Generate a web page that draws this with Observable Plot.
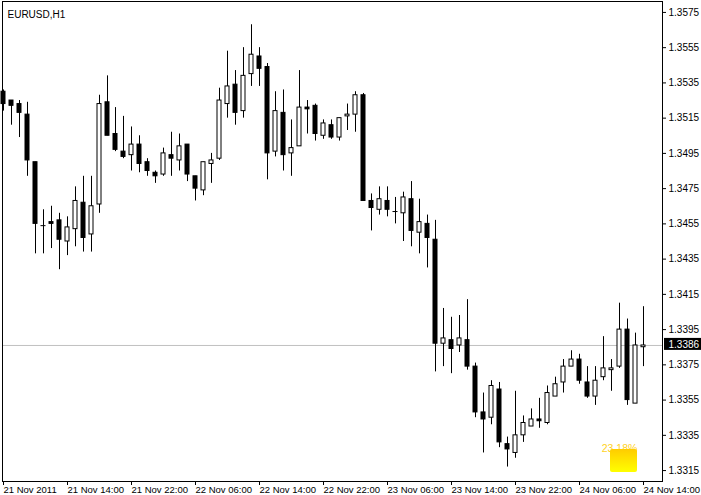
<!DOCTYPE html>
<html><head><meta charset="utf-8">
<script src="https://cdn.jsdelivr.net/npm/d3@7"></script>
<script src="https://cdn.jsdelivr.net/npm/@observablehq/plot@0.6"></script>
<style>html,body{margin:0;padding:0;background:#fff;} #chart svg{display:block}</style>
</head><body><div id="chart"></div>
<script>
const symbol = "EURUSD,H1";
// hourly bars, 21 Nov 2011 06:00 -> 24 Nov 2011 14:00
const open = [1.3530,1.3525,1.3523,1.3517,1.3490,1.3454,1.3456,1.3457,1.3445,1.3452,
1.3467,1.3449,1.3466,1.3524,1.3506,1.3496,1.3494,1.3500,1.3490,1.3484,
1.3483,1.3494,1.3491,1.3500,1.3482,1.3474,1.3489,1.3492,1.3523,1.3534,
1.3519,1.3540,1.3550,1.3544,1.3496,1.3518,1.3495,1.3499,1.3521,1.3522,
1.3505,1.3511,1.3504,1.3516,1.3517,1.3528,1.3468,1.3463,1.3468,1.3462,
1.3461,1.3469,1.3450,1.3455,1.3446,1.3387,1.3389,1.3386,1.3389,1.3374,
1.3348,1.3345,1.3361,1.3330,1.3325,1.3335,1.3340,1.3344,1.3342,1.3357,
1.3365,1.3374,1.3378,1.3365,1.3357,1.3368,1.3372,1.3374,1.3395,1.3353,
1.3385];
const high = [1.3531,1.3525,1.3525,1.3524,1.3490,1.3463,1.3465,1.3461,1.3459,1.3476,
1.3482,1.3482,1.3528,1.3539,1.3521,1.3516,1.3510,1.3505,1.3492,1.3485,
1.3498,1.3507,1.3506,1.3500,1.3482,1.3490,1.3495,1.3532,1.3553,1.3542,
1.3555,1.3568,1.3555,1.3546,1.3530,1.3531,1.3514,1.3542,1.3525,1.3523,
1.3514,1.3514,1.3515,1.3523,1.3530,1.3529,1.3472,1.3476,1.3476,1.3470,
1.3473,1.3479,1.3469,1.3460,1.3457,1.3407,1.3402,1.3403,1.3412,1.3376,
1.3359,1.3366,1.3365,1.3334,1.3360,1.3346,1.3350,1.3356,1.3363,1.3368,
1.3378,1.3383,1.3381,1.3374,1.3374,1.3391,1.3378,1.3410,1.3401,1.3393,
1.3408];
const low = [1.3519,1.3511,1.3504,1.3482,1.3438,1.3438,1.3441,1.3429,1.3437,1.3442,
1.3439,1.3439,1.3461,1.3505,1.3496,1.3492,1.3485,1.3484,1.3482,1.3478,
1.3482,1.3482,1.3485,1.3479,1.3468,1.3471,1.3478,1.3491,1.3515,1.3511,
1.3515,1.3533,1.3533,1.3480,1.3493,1.3485,1.3482,1.3499,1.3506,1.3502,
1.3503,1.3503,1.3502,1.3508,1.3507,1.3468,1.3451,1.3460,1.3459,1.3455,
1.3445,1.3442,1.3438,1.3430,1.3371,1.3374,1.3370,1.3382,1.3372,1.3345,
1.3325,1.3341,1.3328,1.3317,1.3322,1.3331,1.3340,1.3339,1.3341,1.3357,
1.3359,1.3374,1.3364,1.3356,1.3352,1.3366,1.3360,1.3373,1.3352,1.3353,
1.3374];
const close = [1.3523,1.3522,1.3518,1.3491,1.3455,1.3454,1.3455,1.3446,1.3453,1.3468,
1.3447,1.3465,1.3523,1.3505,1.3497,1.3493,1.3500,1.3489,1.3485,1.3482,
1.3495,1.3492,1.3499,1.3483,1.3475,1.3490,1.3491,1.3525,1.3533,1.3518,
1.3539,1.3551,1.3543,1.3495,1.3519,1.3494,1.3498,1.3521,1.3520,1.3506,
1.3512,1.3504,1.3515,1.3517,1.3528,1.3468,1.3464,1.3469,1.3463,1.3462,
1.3470,1.3451,1.3456,1.3447,1.3387,1.3390,1.3384,1.3390,1.3374,1.3348,
1.3344,1.3363,1.3331,1.3327,1.3335,1.3342,1.3344,1.3343,1.3359,1.3364,
1.3374,1.3378,1.3366,1.3357,1.3366,1.3373,1.3373,1.3395,1.3355,1.3386,
1.3386];
const xTickBars = [0,8,16,24,32,40,48,56,64,72,80];
const xTickLabels = ["21 Nov 2011","21 Nov 14:00","21 Nov 22:00","22 Nov 06:00","22 Nov 14:00",
  "22 Nov 22:00","23 Nov 06:00","23 Nov 14:00","23 Nov 22:00","24 Nov 06:00","24 Nov 14:00"];
const yTicks = [1.3575,1.3555,1.3535,1.3515,1.3495,1.3475,1.3455,1.3435,1.3415,1.3395,1.3375,1.3355,1.3335,1.3315];
const lastPrice = 1.3386;
const badgeText = "23.18%";
// badge box (bars / price units)
const badgeBars = [75.875, 79.25];
const badgePrice = [1.33139, 1.33269];
const tagBars = [82.625, 87.3];

const candles = open.map((o, i) => ({i, open: o, high: high[i], low: low[i], close: close[i]}));
const up = candles.filter(d => d.close > d.open);
const down = candles.filter(d => d.close < d.open);
const flat = candles.filter(d => d.close === d.open);

const chart = Plot.plot({
  width: 701, height: 495,
  marginLeft: 2, marginRight: 39, marginTop: 1, marginBottom: 14,
  style: {fontFamily: "'Liberation Sans', Tahoma, sans-serif", fontSize: "10px", background: "white", color: "black"},
  x: {type: "linear", domain: [-0.125, 82.375]},
  y: {domain: [1.33088, 1.35812]},
  marks: [
    Plot.ruleY([lastPrice], {stroke: "#c0c0c0"}),
    Plot.text([badgeText], {x: badgeBars[0] - 1.1, y: badgePrice[1] + 0.00008, text: d => d, fill: "#ffd21e", textAnchor: "start", fontSize: 10.5}),
    Plot.rect([0], {x1: badgeBars[0], x2: badgeBars[1], y1: badgePrice[0], y2: badgePrice[1], fill: "url(#ygrad)", rx: 2}),
    Plot.ruleX(candles, {x: "i", y1: "low", y2: "high", stroke: "black"}),
    Plot.rect(up, {x1: d => d.i - 0.25, x2: d => d.i + 0.25, y1: "open", y2: "close", fill: "white", stroke: "black"}),
    Plot.rect(down, {x1: d => d.i - 0.25, x2: d => d.i + 0.25, y1: "open", y2: "close", fill: "black", stroke: "black"}),
    Plot.ruleY(flat, {y: "close", x1: d => d.i - 0.3125, x2: d => d.i + 0.3125, stroke: "black"}),
    Plot.frame({stroke: "black"}),
    Plot.axisY({anchor: "right", ticks: yTicks, tickSize: 3, tickPadding: 3, tickFormat: d3.format(".4f"), label: null}),
    Plot.axisX({anchor: "bottom", ticks: xTickBars, tickSize: 4, tickPadding: 1, textAnchor: "start", dx: 0, fontSize: 9.5,
      tickFormat: d => xTickLabels[xTickBars.indexOf(d)], label: null}),
    Plot.rect([lastPrice], {x1: tagBars[0], x2: tagBars[1], y1: d => d - 0.00028, y2: d => d + 0.0004, fill: "black"}),
    Plot.text([lastPrice], {y: d => d + 0.00005, frameAnchor: "right", dx: 6, textAnchor: "start", text: d => d3.format(".4f")(d), fill: "white"}),
    Plot.text([symbol], {frameAnchor: "top-left", dx: 5, dy: 9, textAnchor: "start", text: d => d, fill: "black"})
  ]
});
const defs = d3.select(chart).insert("defs", ":first-child");
const g = defs.append("linearGradient").attr("id", "ygrad").attr("x1", 0).attr("y1", 0).attr("x2", 0).attr("y2", 1);
g.append("stop").attr("offset", "0%").attr("stop-color", "#ffcc00");
g.append("stop").attr("offset", "100%").attr("stop-color", "#ffff00");
document.getElementById("chart").appendChild(chart);
</script></body></html>
